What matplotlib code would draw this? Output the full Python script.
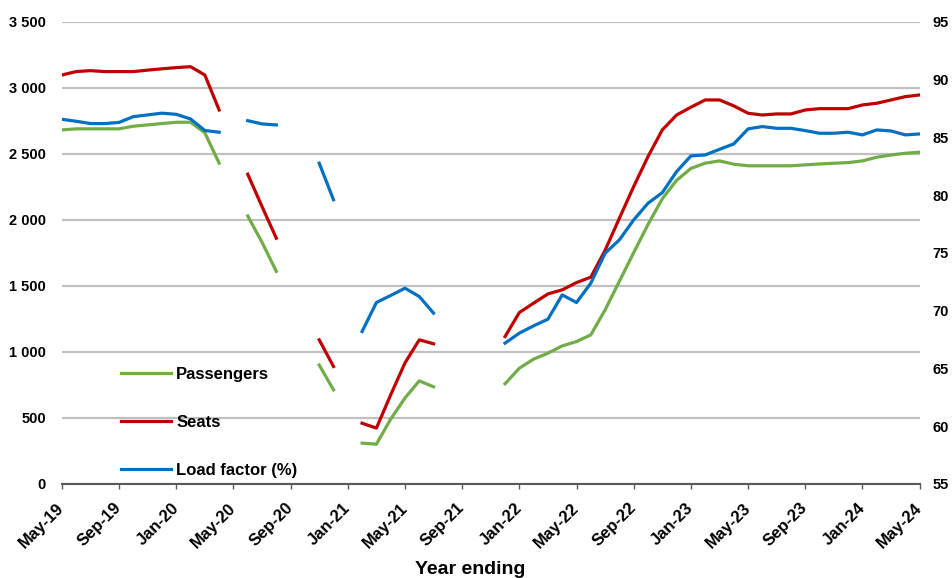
import numpy as np
import matplotlib.pyplot as plt
from matplotlib.ticker import FuncFormatter

plt.rcParams['font.family'] = ['Liberation Sans', 'DejaVu Sans']
plt.rcParams['font.weight'] = 'bold'

nan = np.nan

# monthly, year ending May-19 .. May-24 (61 months)
passengers = [2682, 2690, 2690, 2690, 2690, 2710, 2720, 2730, 2740, 2740, 2660, 2430,
              nan, 2030, 1830, 1610, nan, nan, 900, 712, nan, 308, 300, 490, 650, 780, 735,
              nan, nan, nan, nan, 758, 876, 945, 990, 1045, 1078, 1129, 1318, 1535, 1752,
              1965, 2160, 2300, 2390, 2430, 2447, 2422, 2410, 2410, 2410, 2410, 2417, 2424,
              2429, 2434, 2447, 2475, 2492, 2505, 2513]
seats = [3098, 3124, 3131, 3124, 3124, 3124, 3135, 3145, 3154, 3161, 3098, 2833,
         nan, 2346, 2101, 1861, nan, nan, 1091, 889, nan, 459, 422, 674, 916, 1091, 1061,
         nan, nan, nan, nan, 1116, 1298, 1369, 1439, 1470, 1525, 1566, 1770, 2013, 2253,
         2480, 2682, 2795, 2854, 2909, 2909, 2864, 2808, 2795, 2803, 2803, 2833, 2843,
         2843, 2843, 2871, 2884, 2909, 2934, 2947]
load_factor = [86.57, 86.4, 86.2, 86.2, 86.3, 86.8, 86.95, 87.1, 87.0, 86.6, 85.6, 85.45,
               nan, 86.45, 86.17, 86.08, nan, nan, 82.77, 79.6, nan, 68.19, 70.70, 71.31,
               71.94, 71.22, 69.78, nan, nan, nan, nan, 67.18, 68.05, 68.68, 69.26, 71.36,
               70.70, 72.38, 74.97, 76.13, 77.86, 79.30, 80.22, 82.04, 83.40, 83.48, 83.97,
               84.44, 85.74, 85.94, 85.79, 85.79, 85.59, 85.36, 85.36, 85.45, 85.22, 85.65,
               85.56, 85.22, 85.30]
tick_labels = ['May-19', 'Sep-19', 'Jan-20', 'May-20', 'Sep-20', 'Jan-21', 'May-21',
               'Sep-21', 'Jan-22', 'May-22', 'Sep-22', 'Jan-23', 'May-23', 'Sep-23',
               'Jan-24', 'May-24']

x = np.arange(len(passengers))

fig = plt.figure(figsize=(9.52, 5.78), dpi=100)
ax = fig.add_axes([0.065, 0.163, 0.901, 0.799])
ax2 = ax.twinx()

l1, = ax.plot(x, passengers, color='#70AD47', lw=2.3, label='Passengers')
l2, = ax.plot(x, seats, color='#C00000', lw=2.3, label='Seats')
l3, = ax2.plot(x, load_factor, color='#0070C0', lw=2.3, label='Load factor (%)')

ax.set_xlim(0, 60)
ax.set_ylim(0, 3500)
ax.set_yticks(np.arange(0, 3501, 500))
ax.yaxis.set_major_formatter(FuncFormatter(lambda v, p: f'{int(v):,}'.replace(',', ' ')))
ax2.set_ylim(55, 95)
ax2.set_yticks(np.arange(55, 96, 5))

ax.set_xticks(np.arange(0, 61, 4))
ax.set_xticklabels(tick_labels, rotation=45, ha='right', va='center',
                   rotation_mode='anchor', fontsize=12)
ax.grid(axis='y', color='#C0C0C0', lw=1.6)
ax.set_axisbelow(True)

for a in (ax, ax2):
    for s in ['left', 'right', 'top']:
        a.spines[s].set_visible(False)
ax2.spines['bottom'].set_visible(False)
ax.spines['bottom'].set_color('#595959')
ax.spines['bottom'].set_linewidth(1.5)
ax.tick_params(axis='x', length=3.6, width=1, color='#595959', pad=12)
ax.tick_params(axis='y', length=0, labelsize=10.5, pad=11.5)
ax2.tick_params(axis='y', length=0, labelsize=10.5, pad=9)

fig.text(470 / 952, 1 - 561 / 578, 'Year ending', ha='center', va='top', fontsize=14,
         fontweight='bold')

ax2.legend(handles=[l1, l2, l3], loc='lower left', bbox_to_anchor=(0.069, 0.012),
           frameon=False, fontsize=12, labelspacing=2.0, handlelength=3.0,
           handletextpad=0.3, borderpad=0, borderaxespad=0)

fig.savefig('out.png', dpi=100)
